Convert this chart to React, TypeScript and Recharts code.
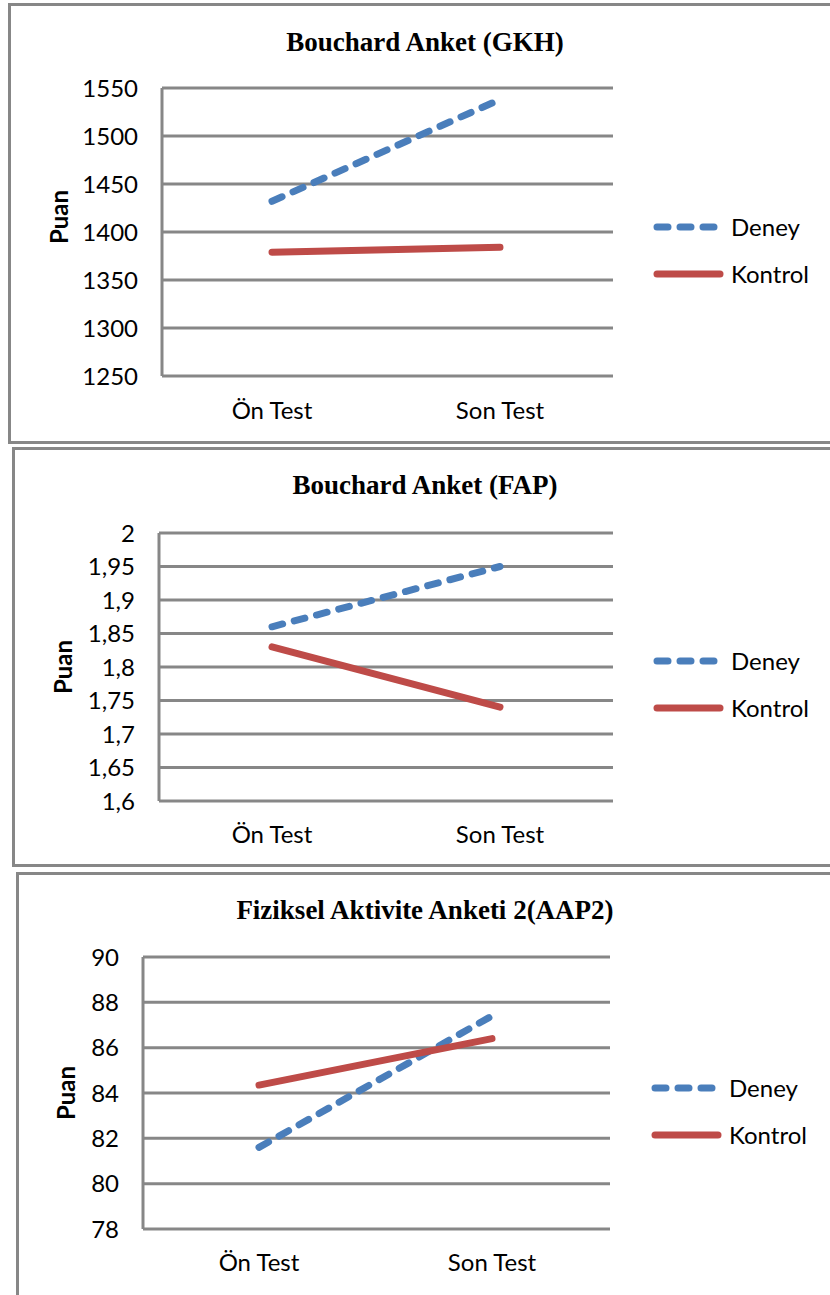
import React from "react";
import { CartesianGrid, Line, LineChart, XAxis, YAxis } from "recharts";

const categories = ["Ön Test", "Son Test"];

const gkhDeney = [1432, 1538];
const gkhKontrol = [1379, 1384];
const gkhTicks = [1250, 1300, 1350, 1400, 1450, 1500, 1550];

const fapDeney = [1.86, 1.95];
const fapKontrol = [1.83, 1.74];
const fapTicks = [1.6, 1.65, 1.7, 1.75, 1.8, 1.85, 1.9, 1.95, 2];

const aapDeney = [81.6, 87.4];
const aapKontrol = [84.35, 86.4];
const aapTicks = [78, 80, 82, 84, 86, 88, 90];

const BLUE = "#4A7EBB";
const RED = "#BE4B48";
const GRID = "#878787";
const SANS = "Lato, 'Open Sans', sans-serif";
const SERIF = "'Liberation Serif', 'Times New Roman', serif";
const DASH = "11 12";

type Box = { left: number; top: number; right: number; bottom: number };

type PanelProps = {
  title: string;
  deney: number[];
  kontrol: number[];
  ticks: number[];
  comma?: boolean;
  frame: Box; // outer frame, page coords
  plot: Box; // plot area, page coords
  cat: [number, number]; // x of the two categories
  titleY: number;
  labelY: number;
  puan: { x: number; y: number };
  legend: { x1: number; x2: number; textX: number; y1: number; y2: number };
};

function Panel(p: PanelProps) {
  const data = categories.map((name, i) => ({ name, deney: p.deney[i], kontrol: p.kontrol[i] }));
  const top = p.frame.top;
  const height = p.frame.bottom - p.frame.top;
  const yWidth = 100;
  const xHeight = 60;
  const fmt = (v: number) => (p.comma ? String(v).replace(".", ",") : String(v));

  return (
    <>
      <div
        style={{
          position: "absolute",
          left: p.frame.left,
          top: p.frame.top,
          width: p.frame.right - p.frame.left,
          height,
          border: `3px solid ${GRID}`,
          boxSizing: "border-box",
          background: "#fff",
        }}
      />
      <div style={{ position: "absolute", left: 0, top, width: 830, height }}>
        <LineChart
          width={830}
          height={height}
          data={data}
          margin={{
            top: p.plot.top - top,
            left: p.plot.left - yWidth,
            right: 830 - p.plot.right,
            bottom: top + height - p.plot.bottom - xHeight,
          }}
        >
          <CartesianGrid vertical={false} stroke={GRID} strokeWidth={3} />
          <XAxis
            dataKey="name"
            height={xHeight}
            axisLine={false}
            tickLine={false}
            tickSize={0}
            tickMargin={p.labelY - p.plot.bottom - 9}
            padding={{ left: p.cat[0] - p.plot.left, right: p.plot.right - p.cat[1] }}
            tick={{ fill: "#000", fontSize: 24, fontFamily: SANS }}
          />
          <YAxis
            width={yWidth}
            domain={[p.ticks[0], p.ticks[p.ticks.length - 1]]}
            ticks={p.ticks}
            interval={0}
            axisLine={{ stroke: GRID, strokeWidth: 3 }}
            tickLine={false}
            tickSize={0}
            tickMargin={24}
            tickFormatter={fmt}
            tick={{ fill: "#000", fontSize: 24, fontFamily: SANS }}
          />
          <Line
            type="linear"
            dataKey="deney"
            stroke={BLUE}
            strokeWidth={7}
            strokeDasharray={DASH}
            strokeLinecap="round"
            dot={false}
            activeDot={false}
            isAnimationActive={false}
          />
          <Line
            type="linear"
            dataKey="kontrol"
            stroke={RED}
            strokeWidth={7}
            strokeLinecap="round"
            dot={false}
            activeDot={false}
            isAnimationActive={false}
          />
        </LineChart>
      </div>
      <div
        style={{
          position: "absolute",
          left: 0,
          width: 850,
          top: p.titleY - 15,
          height: 30,
          lineHeight: "30px",
          textAlign: "center",
          fontFamily: SERIF,
          fontWeight: "bold",
          fontSize: 27,
          color: "#000",
        }}
      >
        {p.title}
      </div>
      <div
        style={{
          position: "absolute",
          left: p.puan.x - 40,
          top: p.puan.y - 15,
          width: 80,
          height: 30,
          lineHeight: "30px",
          textAlign: "center",
          transform: "rotate(-90deg)",
          fontFamily: SANS,
          fontWeight: "bold",
          fontSize: 24,
          color: "#000",
        }}
      >
        Puan
      </div>
      {[
        { name: "Deney", color: BLUE, dash: DASH, y: p.legend.y1 },
        { name: "Kontrol", color: RED, dash: undefined, y: p.legend.y2 },
      ].map((e) => (
        <React.Fragment key={e.name}>
          <svg
            style={{ position: "absolute", left: 0, top: e.y - 10 }}
            width={830}
            height={20}
          >
            <line
              x1={p.legend.x1 + 4}
              x2={p.legend.x2 - 4}
              y1={10}
              y2={10}
              stroke={e.color}
              strokeWidth={7}
              strokeLinecap="round"
              strokeDasharray={e.dash}
            />
          </svg>
          <div
            style={{
              position: "absolute",
              left: p.legend.textX,
              top: e.y - 15,
              height: 30,
              lineHeight: "30px",
              fontFamily: SANS,
              fontSize: 24,
              color: "#000",
            }}
          >
            {e.name}
          </div>
        </React.Fragment>
      ))}
    </>
  );
}

export default function App() {
  return (
    <div
      style={{
        position: "absolute",
        left: 0,
        top: 0,
        width: 830,
        height: 1295,
        overflow: "hidden",
        background: "#fff",
      }}
    >
      <Panel
        title="Bouchard Anket (GKH)"
        deney={gkhDeney}
        kontrol={gkhKontrol}
        ticks={gkhTicks}
        frame={{ left: 8, top: 3, right: 840, bottom: 444 }}
        plot={{ left: 162, top: 88, right: 613, bottom: 376 }}
        cat={[272, 500]}
        titleY={42}
        labelY={411}
        puan={{ x: 59, y: 217 }}
        legend={{ x1: 653, x2: 724, textX: 731, y1: 227, y2: 274 }}
      />
      <Panel
        title="Bouchard Anket (FAP)"
        deney={fapDeney}
        kontrol={fapKontrol}
        ticks={fapTicks}
        comma
        frame={{ left: 12, top: 447, right: 840, bottom: 867 }}
        plot={{ left: 159, top: 533, right: 613, bottom: 801 }}
        cat={[272, 500]}
        titleY={485}
        labelY={835}
        puan={{ x: 63, y: 667 }}
        legend={{ x1: 653, x2: 724, textX: 731, y1: 661, y2: 708 }}
      />
      <Panel
        title="Fiziksel Aktivite Anketi 2(AAP2)"
        deney={aapDeney}
        kontrol={aapKontrol}
        ticks={aapTicks}
        frame={{ left: 16, top: 872, right: 840, bottom: 1310 }}
        plot={{ left: 143, top: 957, right: 610, bottom: 1229 }}
        cat={[259, 492]}
        titleY={910}
        labelY={1263}
        puan={{ x: 66, y: 1093 }}
        legend={{ x1: 651, x2: 722, textX: 729, y1: 1088, y2: 1135 }}
      />
    </div>
  );
}
